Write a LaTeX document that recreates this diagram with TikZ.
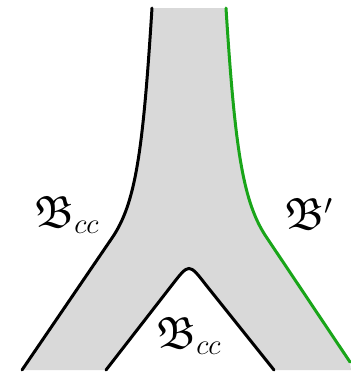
\documentclass[tikz,border=0pt]{standalone}
\usepackage{amsmath,amssymb}
\usepackage{xcolor}
\usepackage{tikz}
\definecolor{sheetgray}{RGB}{217,217,217}
\definecolor{bgreen}{RGB}{25,165,25}

\begin{document}
\begin{tikzpicture}[
  x=0.5pt,y=-0.5pt,
  font=\fontsize{22.5}{27}\selectfont,
  edge/.style={line width=1.5pt,line cap=round},
  greenedge/.style={edge,draw=bgreen},
  lab/.style={inner sep=0pt},
]
\useasboundingbox (0,0) rectangle (351,372);
% corners of the pants
\coordinate (lt) at (152,8);
\coordinate (lb) at (22,370);
\coordinate (rt) at (226,8);
\coordinate (rb) at (350,362);
\coordinate (al) at (106,370);
\coordinate (ar) at (274,370);
% grey sheet
\fill[sheetgray] (lt) .. controls (143,150) and (136,203) .. (112,238) -- (lb)
  -- (al) -- (172,285) .. controls (189,263) .. (206,285) -- (ar)
  -- (351,370) -- (rb) -- (267,238) .. controls (243,203) and (235,150) .. (rt) -- cycle;
% boundaries
\draw[edge] (lt) .. controls (143,150) and (136,203) .. (112,238) -- (lb);
\draw[edge] (al) -- (172,285) .. controls (189,263) .. (206,285) -- (ar);
\draw[greenedge] (rt) .. controls (235,150) and (243,203) .. (267,238) -- (rb);
% labels
\node[lab] (bl) at (67,215) {$\mathfrak{B}_{cc}$};
\node[lab] (br) at (309,214) {$\mathfrak{B}'$};
\node[lab] (bb) at (189,336) {$\mathfrak{B}_{cc}$};
\end{tikzpicture}
\end{document}
